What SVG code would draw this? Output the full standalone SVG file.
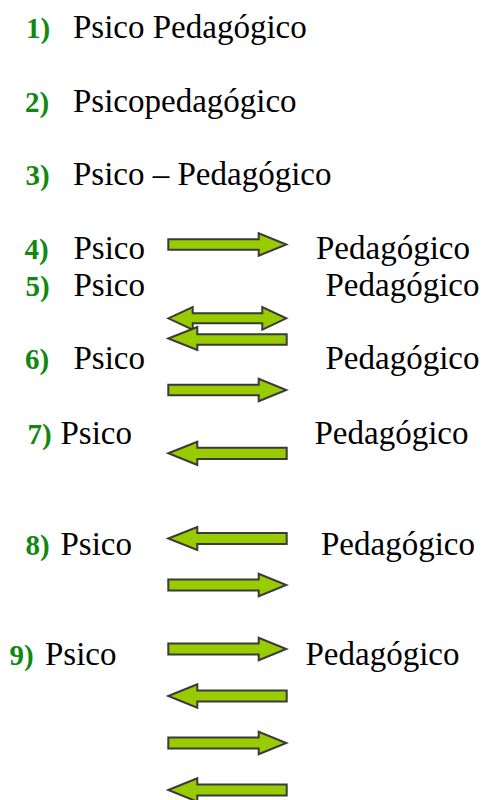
<svg xmlns="http://www.w3.org/2000/svg" width="484" height="800" viewBox="0 0 484 800">
<rect width="484" height="800" fill="#fff"/>
<g id="row1"><text x="26" y="38" font-weight="bold" font-size="29" fill="#118811" font-family="Times New Roman, serif">1)</text><text x="73" y="38" font-size="33" font-family="Times New Roman, serif">Psico Pedagógico</text></g>
<g id="row2"><text x="25" y="111.5" font-weight="bold" font-size="29" fill="#118811" font-family="Times New Roman, serif">2)</text><text x="73" y="111.5" font-size="33" font-family="Times New Roman, serif">Psicopedagógico</text></g>
<g id="row3"><text x="25.5" y="185" font-weight="bold" font-size="29" fill="#118811" font-family="Times New Roman, serif">3)</text><text x="73" y="185" font-size="33" font-family="Times New Roman, serif">Psico – Pedagógico</text></g>
<g id="row4"><text x="24.5" y="259" font-weight="bold" font-size="29" fill="#118811" font-family="Times New Roman, serif">4)</text><text x="73.5" y="259" font-size="33" font-family="Times New Roman, serif">Psico</text><text x="316" y="259" font-size="33" font-family="Times New Roman, serif">Pedagógico</text></g>
<g id="row5"><text x="25.5" y="296" font-weight="bold" font-size="29" fill="#118811" font-family="Times New Roman, serif">5)</text><text x="73.5" y="296" font-size="33" font-family="Times New Roman, serif">Psico</text><text x="325.5" y="296" font-size="33" font-family="Times New Roman, serif">Pedagógico</text></g>
<g id="row6"><text x="25" y="369" font-weight="bold" font-size="29" fill="#118811" font-family="Times New Roman, serif">6)</text><text x="73.5" y="369" font-size="33" font-family="Times New Roman, serif">Psico</text><text x="325.5" y="369" font-size="33" font-family="Times New Roman, serif">Pedagógico</text></g>
<g id="row7"><text x="27.5" y="444.3" font-weight="bold" font-size="29" fill="#118811" font-family="Times New Roman, serif">7)</text><text x="60.5" y="444.3" font-size="33" font-family="Times New Roman, serif">Psico</text><text x="314.5" y="444.3" font-size="33" font-family="Times New Roman, serif">Pedagógico</text></g>
<g id="row8"><text x="25.5" y="555" font-weight="bold" font-size="29" fill="#118811" font-family="Times New Roman, serif">8)</text><text x="60.5" y="555" font-size="33" font-family="Times New Roman, serif">Psico</text><text x="321" y="555" font-size="33" font-family="Times New Roman, serif">Pedagógico</text></g>
<g id="row9"><text x="9.5" y="665" font-weight="bold" font-size="29" fill="#118811" font-family="Times New Roman, serif">9)</text><text x="45" y="665" font-size="33" font-family="Times New Roman, serif">Psico</text><text x="305.5" y="665" font-size="33" font-family="Times New Roman, serif">Pedagógico</text></g>
<g id="arrows" fill="#99cc00" stroke="#3a3a3a" stroke-width="2">
<path d="M168.3,239.3 H258.7 V233.3 L286.3,244.5 L258.7,255.7 V249.7 H168.3 Z"/>
<path d="M168.3,318.3 L192.7,307 V313.3 H262.3 V307 L286.3,318.3 L262.3,329.6 V323.3 H192.7 V329.6 Z"/>
<path d="M168.3,338.5 L197.3,327 V334.3 H286.7 V344.7 H197.3 V350 Z"/>
<path d="M168.3,384.8 H258.7 V378.8 L286.3,390 L258.7,401.2 V395.2 H168.3 Z"/>
<path d="M168.3,453.3 L197.3,441.7 V447.7 H286.7 V459 H197.3 V465 Z"/>
<path d="M168.3,538.5 L197.3,527 V533 H286.7 V544 H197.3 V550 Z"/>
<path d="M168.3,579.5 H258.7 V573.7 L286.3,585 L258.7,596.3 V590.5 H168.3 Z"/>
<path d="M168.3,643.5 H258.7 V637.7 L286.3,649 L258.7,660.3 V654.5 H168.3 Z"/>
<path d="M168.3,696 L197.3,684.3 V690.5 H286.7 V701.5 H197.3 V707.7 Z"/>
<path d="M168.3,737.5 H258.7 V731.7 L286.3,743 L258.7,754.3 V748.5 H168.3 Z"/>
<path d="M168.3,790 L197.3,778.3 V784.5 H286.7 V795.5 H197.3 V801.7 Z"/>
</g>
</svg>
